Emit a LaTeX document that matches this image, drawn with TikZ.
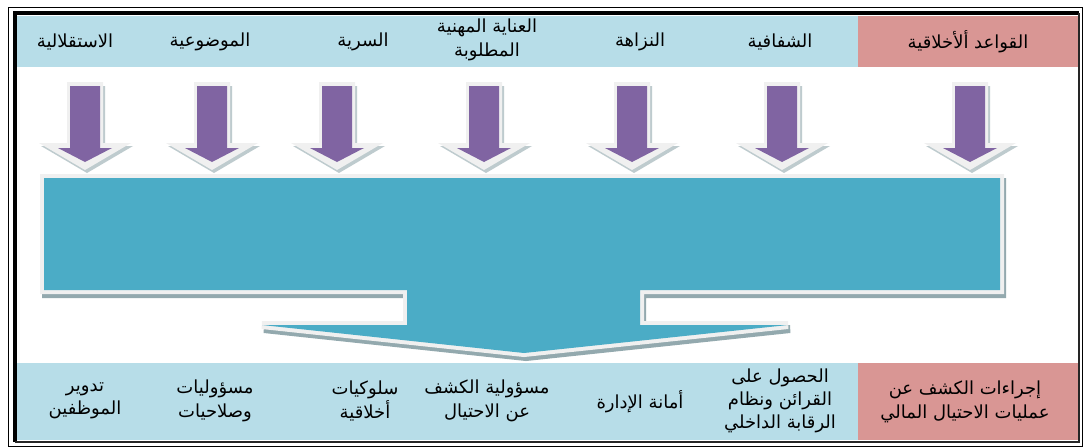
\documentclass[tikz,border=0pt]{standalone}
\usepackage{fontspec}
\newfontfamily\arabicfont[Script=Arabic]{DejaVu Sans}
\TeXXeTstate=1
\newcommand{\myR}[1]{\beginR #1\endR}
\definecolor{lblue}{HTML}{B7DDE8}
\definecolor{lpink}{HTML}{D99694}
\definecolor{aqua}{HTML}{4BACC6}
\definecolor{purp}{HTML}{8064A2}
\definecolor{glow}{HTML}{F0F0F0}
\definecolor{shadc}{HTML}{93A9AE}
\begin{document}
\begin{tikzpicture}[x=0.75pt,y=-0.75pt,
  lbl/.style={font=\arabicfont\fontsize{13.5}{17.5}\selectfont, align=center, inner sep=0pt, text=black},
  cellb/.style={fill=lblue, draw=none},
  cellp/.style={fill=lpink, draw=none}]
\useasboundingbox (0,0) rectangle (1084,447);
\fill[white] (0,0) rectangle (1084,447);
% cells
\fill[cellb] (17,16) rectangle (858,67);
\fill[cellp] (858,16) rectangle (1078,67);
\fill[cellb] (17,363) rectangle (858,440);
\fill[cellp] (858,363) rectangle (1078,440);
% frame
\draw[line width=0.7pt, black] (8,7.5) rectangle (1082,446);
\draw[line width=3pt, black] (15,442) -- (15,13) -- (1079,13);
\draw[line width=1.4pt, black!85] (1079,13) -- (1079,442) -- (15,442);
% top arrows
\foreach \cx in {85,212,337,484,632,782,970}{
  \begin{scope}[shift={(\cx,0)}]
    \fill[shadc!60] (-14,86) -- (20,86) -- (20,146) -- (48,146) -- (2,173) -- (-44,146) -- (-14,146) -- cycle;
    \fill[glow] (-18,82) -- (18,82) -- (18,143) -- (46,143) -- (0,170) -- (-46,143) -- (-18,143) -- cycle;
    \fill[purp] (-15,86) -- (15,86) -- (15,148) -- (27,148) -- (0,162) -- (-27,148) -- (-15,148) -- cycle;
  \end{scope}
}
% big shape
\def\bigshape{(44,178) -- (1000,178) -- (1000,290) -- (640,290) -- (640,325) -- (788,325) -- (524,353) -- (262,325) -- (407,325) -- (407,290) -- (44,290) -- cycle}
\draw[line width=6pt, draw=shadc, line join=miter, shift={(2,4)}] \bigshape;
\filldraw[line width=6pt, draw=glow, fill=glow, line join=miter] \bigshape;
\fill[aqua] \bigshape;
% top texts
\node[lbl] (t1) at (968,42) {\myR{القواعد ألأخلاقية}};
\node[lbl] (t2) at (780,42) {\myR{الشفافية}};
\node[lbl] (t3) at (640,42) {\myR{النزاهة}};
\node[lbl] (t4) at (487,40) {\myR{العناية المهنية}\\\myR{المطلوبة}};
\node[lbl] (t5) at (363,42) {\myR{السرية}};
\node[lbl] (t6) at (210,42) {\myR{الموضوعية}};
\node[lbl] (t7) at (75,42) {\myR{الاستقلالية}};
% bottom texts
\node[lbl] (b1) at (965,402) {\myR{إجراءات الكشف عن}\\\myR{عمليات الاحتيال المالي}};
\node[lbl] (b2) at (780,401) {\myR{الحصول على}\\\myR{القرائن ونظام}\\\myR{الرقابة الداخلي}};
\node[lbl] (b3) at (640,402) {\myR{أمانة الإدارة}};
\node[lbl] (b4) at (487,401) {\myR{مسؤولية الكشف}\\\myR{عن الاحتيال}};
\node[lbl] (b5) at (365,401) {\myR{سلوكيات}\\\myR{أخلاقية}};
\node[lbl] (b6) at (215,401) {\myR{مسؤوليات}\\\myR{وصلاحيات}};
\node[lbl] (b7) at (85,401) {\myR{تدوير}\\\myR{الموظفين}};
\end{tikzpicture}
\end{document}
